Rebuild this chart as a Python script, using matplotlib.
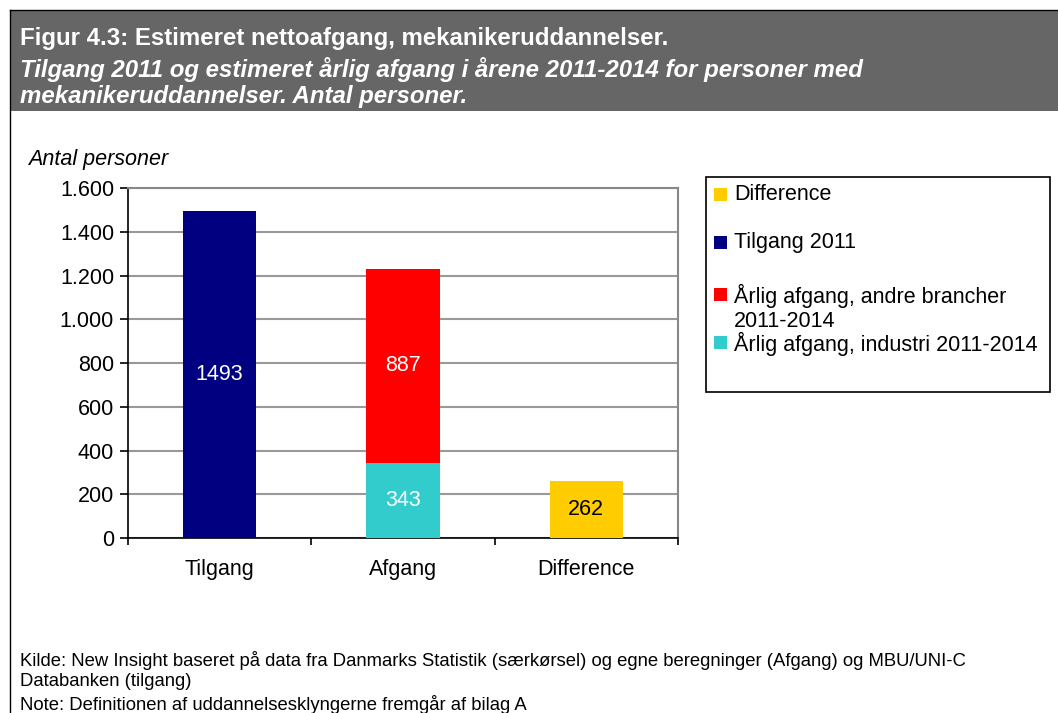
import matplotlib
matplotlib.use("Agg")
import matplotlib.pyplot as plt
from matplotlib.patches import Rectangle

plt.rcParams['font.family'] = ['Liberation Sans', 'DejaVu Sans']

categories = ["Tilgang", "Afgang", "Difference"]
tilgang = [1493, 0, 0]
afgang_industri = [0, 343, 0]
afgang_andre = [0, 887, 0]
difference = [0, 0, 262]
yticks = [0, 200, 400, 600, 800, 1000, 1200, 1400, 1600]
ytick_labels = ["0", "200", "400", "600", "800", "1.000", "1.200", "1.400", "1.600"]
legend_labels = ["Difference", "Tilgang 2011", "Årlig afgang, andre brancher\n2011-2014",
                 "Årlig afgang, industri 2011-2014"]
legend_colors = ["#FFCC00", "#000080", "#FF0000", "#33CCCC"]

W, H = 1058, 713
fig = plt.figure(figsize=(W / 100, H / 100), dpi=100)


def fx(px):
    return px / W


def fy(py):
    return 1 - py / H


# header band
fig.patches.append(Rectangle((fx(10), fy(111)), 1 - fx(10), 101 / H,
                             transform=fig.transFigure, facecolor="#666666",
                             edgecolor="none", zorder=0))
fig.lines.append(plt.Line2D([fx(10), 1], [fy(10), fy(10)], transform=fig.transFigure,
                            color="black", lw=1))
fig.lines.append(plt.Line2D([fx(10), fx(10)], [0, fy(10)], transform=fig.transFigure,
                            color="black", lw=1))
tfs = 17.3
fig.text(fx(20), fy(38), "Figur 4.3: Estimeret nettoafgang, mekanikeruddannelser.",
         color="white", fontsize=tfs, fontweight="bold", va="center", ha="left")
fig.text(fx(20), fy(70), "Tilgang 2011 og estimeret årlig afgang i årene 2011-2014 for personer med",
         color="white", fontsize=tfs, fontweight="bold", style="italic", va="center", ha="left")
fig.text(fx(20), fy(96), "mekanikeruddannelser. Antal personer.",
         color="white", fontsize=tfs, fontweight="bold", style="italic", va="center", ha="left")

ax = fig.add_axes([fx(128), fy(538), 550 / W, 350 / H])
x = list(range(len(categories)))
bw = 0.40
ax.bar(x, tilgang, bw, color=legend_colors[1], zorder=3)
ax.bar(x, afgang_industri, bw, color=legend_colors[3], zorder=3)
ax.bar(x, afgang_andre, bw, bottom=afgang_industri, color=legend_colors[2], zorder=3)
ax.bar(x, difference, bw, color=legend_colors[0], zorder=3)

fs = 15.5
ax.text(0, tilgang[0] / 2, str(tilgang[0]), ha="center", va="center", color="white", fontsize=fs, zorder=4)
ax.text(1, afgang_industri[1] / 2, str(afgang_industri[1]), ha="center", va="center", color="white", fontsize=fs, zorder=4)
ax.text(1, afgang_industri[1] + afgang_andre[1] / 2, str(afgang_andre[1]), ha="center", va="center",
        color="white", fontsize=fs, zorder=4)
ax.text(2, difference[2] / 2, str(difference[2]), ha="center", va="center", color="black", fontsize=fs, zorder=4)

ax.set_xlim(-0.5, 2.5)
ax.set_ylim(0, 1600)
ax.set_yticks(yticks)
ax.set_yticklabels(ytick_labels, fontsize=fs)
ax.yaxis.grid(True, color="#999999", lw=1.5, zorder=0)
ax.set_xticks([-0.5, 0.5, 1.5, 2.5])
ax.set_xticklabels([])
ax.set_xticks(x, minor=True)
ax.set_xticklabels(categories, minor=True, fontsize=fs)
ax.tick_params(axis="x", which="minor", length=0, pad=15)
ax.tick_params(axis="x", which="major", length=5, width=1.2, direction="out")
ax.tick_params(axis="y", length=6, width=1.2, direction="out", pad=4)
for s in ["left", "bottom"]:
    ax.spines[s].set_color("black")
    ax.spines[s].set_linewidth(1.2)
for s in ["top", "right"]:
    ax.spines[s].set_color("#888888")
    ax.spines[s].set_linewidth(1.5)

fig.text(fx(28), fy(160), "Antal personer", fontsize=fs, style="italic", va="center", ha="left")

# legend (drawn manually to match reference spacing)
fig.patches.append(Rectangle((fx(706), fy(392)), 344 / W, 215 / H, transform=fig.transFigure,
                             facecolor="white", edgecolor="black", lw=1.2, zorder=5))
legend_y = [195, 243, 295, 343]
for lab, col, ly in zip(legend_labels, legend_colors, legend_y):
    fig.patches.append(Rectangle((fx(714), fy(ly + 6)), 13 / W, 13 / H, transform=fig.transFigure,
                                 facecolor=col, edgecolor="none", zorder=6))
    fig.text(fx(734), fy(ly - 11), lab, fontsize=fs, va="top", ha="left", zorder=7, linespacing=1.15)

fs2 = 13.3
fig.text(fx(20), fy(660), "Kilde: New Insight baseret på data fra Danmarks Statistik (særkørsel) og egne beregninger (Afgang) og MBU/UNI-C",
         fontsize=fs2, va="center", ha="left")
fig.text(fx(20), fy(682), "Databanken (tilgang)", fontsize=fs2, va="center", ha="left")
fig.text(fx(20), fy(705), "Note: Definitionen af uddannelsesklyngerne fremgår af bilag A",
         fontsize=fs2, va="center", ha="left")

fig.savefig("out.png", dpi=100)
